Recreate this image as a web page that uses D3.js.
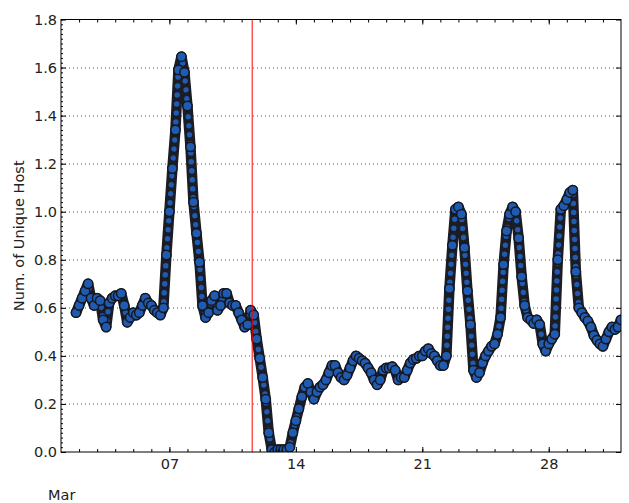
<!DOCTYPE html>
<html>
<head>
<meta charset="utf-8">
<script src="https://cdn.jsdelivr.net/npm/d3@7"></script>
<style>
  html, body { margin: 0; padding: 0; background: #fff; }
  svg { display: block; }
  text { font-family: "DejaVu Sans", sans-serif; }
</style>
</head>
<body>
<svg id="chart" width="629" height="503"></svg>
<script>
// Unique hosts seen, sampled every 4 hours from 1 Mar 20:00 (UTC)
const seriesStart = Date.UTC(2014, 2, 1, 20);
const stepHours = 4;
const hostCounts = [
  0.58, 0.61, 0.64, 0.67, 0.70, 0.64, 0.61, 0.64, 0.63, 0.55,
  0.52, 0.62, 0.64, 0.65, 0.65, 0.66, 0.61, 0.54, 0.56, 0.58,
  0.57, 0.58, 0.61, 0.64, 0.62, 0.61, 0.59, 0.58, 0.57, 0.60,
  0.82, 1.00, 1.18, 1.34, 1.59, 1.645, 1.58, 1.44, 1.27, 1.04,
  0.91, 0.79, 0.61, 0.56, 0.58, 0.63, 0.65, 0.59, 0.61, 0.66,
  0.66, 0.62, 0.61, 0.61, 0.58, 0.55, 0.52, 0.53, 0.59, 0.57,
  0.47, 0.39, 0.31, 0.22, 0.08, 0.01, 0.00, 0.01, 0.01, 0.01,
  0.01, 0.02, 0.08, 0.13, 0.18, 0.23, 0.27, 0.285, 0.25, 0.22,
  0.25, 0.27, 0.28, 0.30, 0.33, 0.36, 0.36, 0.33, 0.31, 0.30,
  0.32, 0.35, 0.38, 0.40, 0.39, 0.38, 0.37, 0.35, 0.33, 0.30,
  0.28, 0.30, 0.34, 0.35, 0.35, 0.355, 0.34, 0.30, 0.31, 0.31,
  0.34, 0.37, 0.385, 0.39, 0.40, 0.40, 0.42, 0.43, 0.41, 0.40,
  0.38, 0.36, 0.36, 0.40, 0.68, 0.86, 1.01, 1.02, 0.99, 0.85,
  0.67, 0.53, 0.34, 0.31, 0.33, 0.37, 0.40, 0.42, 0.44, 0.45,
  0.49, 0.56, 0.78, 0.92, 0.99, 1.02, 1.00, 0.89, 0.73, 0.61,
  0.56, 0.55, 0.535, 0.55, 0.53, 0.45, 0.42, 0.45, 0.47, 0.49,
  0.80, 1.01, 1.025, 1.05, 1.08, 1.09, 0.75, 0.60, 0.58, 0.56,
  0.545, 0.52, 0.485, 0.465, 0.45, 0.44, 0.47, 0.50, 0.52, 0.51,
  0.52, 0.55
];

// Axis ticks and labels
const xTickDays = [7, 14, 21, 28];
const xTickLabels = ["07", "14", "21", "28"];
const xMonthLabel = "Mar";
const yTickValues = [0.0, 0.2, 0.4, 0.6, 0.8, 1.0, 1.2, 1.4, 1.6, 1.8];
const yTickLabels = ["0.0", "0.2", "0.4", "0.6", "0.8", "1.0", "1.2", "1.4", "1.6", "1.8"];
const yAxisTitle = "Num. of Unique Host";
// Marked event time: 11 Mar 14:00
const eventTime = Date.UTC(2014, 2, 11, 14);

const points = hostCounts.map((v, i) => ({
  t: new Date(seriesStart + i * stepHours * 3600e3),
  v: v
}));

const svg = d3.select("#chart");
const margin = { left: 61, right: 8, top: 19.5, bottom: 51 };
const W = 629, H = 503;
const plotW = W - margin.left - margin.right;
const plotH = H - margin.top - margin.bottom;

const x = d3.scaleUtc()
  .domain([new Date(Date.UTC(2014, 2, 1)), new Date(Date.UTC(2014, 3, 1))])
  .range([0, plotW]);
const y = d3.scaleLinear().domain([0, 1.8]).range([plotH, 0]);

const g = svg.append("g").attr("transform", `translate(${margin.left},${margin.top})`);

svg.append("defs").append("clipPath").attr("id", "plotClip")
  .append("rect").attr("x", 0).attr("y", 0).attr("width", plotW).attr("height", plotH);

// Dotted horizontal grid
g.append("g").selectAll("line")
  .data(yTickValues.filter(v => v > 0 && v < 1.8))
  .join("line")
  .attr("x1", 0).attr("x2", plotW)
  .attr("y1", d => Math.round(y(d)) + 0.5).attr("y2", d => Math.round(y(d)) + 0.5)
  .attr("stroke", "#555").attr("stroke-width", 1)
  .attr("stroke-dasharray", "1,3");

// Series: a dark band of overlapping round markers joining the samples,
// then one marker per sample on top
const plot = g.append("g").attr("clip-path", "url(#plotClip)");
const line = d3.line().x(d => x(d.t)).y(d => y(d.v)).curve(d3.curveLinear);
plot.append("path").datum(points)
  .attr("d", line)
  .attr("fill", "none")
  .attr("stroke", "#1b1c24")
  .attr("stroke-width", 10.5)
  .attr("stroke-linejoin", "round")
  .attr("stroke-linecap", "round");
plot.append("path").datum(points)
  .attr("d", line)
  .attr("fill", "none")
  .attr("stroke", "#1f5bb0")
  .attr("stroke-width", 5.5)
  .attr("stroke-dasharray", "0.01,9")
  .attr("stroke-linecap", "round")
  .attr("stroke-linejoin", "round");
plot.append("g").selectAll("circle")
  .data(points)
  .join("circle")
  .attr("cx", d => x(d.t))
  .attr("cy", d => y(d.v))
  .attr("r", 4.7)
  .attr("fill", "#1f5bb0")
  .attr("stroke", "#16171f")
  .attr("stroke-width", 1.5);

// Event marker
g.append("line")
  .attr("x1", x(new Date(eventTime))).attr("x2", x(new Date(eventTime)))
  .attr("y1", 0).attr("y2", plotH)
  .attr("stroke", "#ff0000").attr("stroke-width", 1);

// Axes (ticks point inward)
const dayTicks = d3.utcDay.range(new Date(Date.UTC(2014, 2, 2)), new Date(Date.UTC(2014, 3, 1)));
const majorDates = xTickDays.map(d => new Date(Date.UTC(2014, 2, d)));
const fontSize = "14.5px";

function styleAxis(sel) {
  sel.select(".domain").remove();
  sel.selectAll(".tick line").attr("stroke", "#000");
  sel.selectAll("text").attr("fill", "#222").style("font-size", fontSize)
    .style("font-family", "'DejaVu Sans', sans-serif");
}

g.append("g").attr("transform", `translate(0,${plotH})`)
  .call(d3.axisBottom(x).tickValues(dayTicks).tickSize(-3).tickFormat(""))
  .call(styleAxis);
g.append("g").attr("transform", `translate(0,${plotH})`)
  .call(d3.axisBottom(x).tickValues(majorDates).tickSize(-5).tickPadding(7)
    .tickFormat((d, i) => xTickLabels[i]))
  .call(styleAxis);
g.append("g")
  .call(d3.axisTop(x).tickValues(dayTicks).tickSize(-3).tickFormat(""))
  .call(styleAxis);
g.append("g")
  .call(d3.axisTop(x).tickValues(majorDates).tickSize(-5).tickFormat(""))
  .call(styleAxis);

g.append("g")
  .call(d3.axisLeft(y).tickValues(d3.range(0, 1.801, 0.02)).tickSize(-2).tickFormat(""))
  .call(styleAxis);
g.append("g")
  .call(d3.axisLeft(y).tickValues(yTickValues).tickSize(-5).tickPadding(4)
    .tickFormat((d, i) => yTickLabels[i]))
  .call(styleAxis);
g.append("g").attr("transform", `translate(${plotW},0)`)
  .call(d3.axisRight(y).tickValues(yTickValues).tickSize(-5).tickFormat(""))
  .call(styleAxis);

// Frame
g.append("rect")
  .attr("x", 0).attr("y", 0).attr("width", plotW).attr("height", plotH)
  .attr("fill", "none").attr("stroke", "#000").attr("stroke-width", 1);

// Month label and y-axis title
svg.append("text")
  .attr("x", 48).attr("y", 500)
  .attr("fill", "#222").style("font-size", fontSize)
  .text(xMonthLabel);
svg.append("text")
  .attr("transform", `translate(24,${margin.top + plotH / 2}) rotate(-90)`)
  .attr("text-anchor", "middle")
  .attr("fill", "#222").style("font-size", fontSize)
  .text(yAxisTitle);
</script>
</body>
</html>
